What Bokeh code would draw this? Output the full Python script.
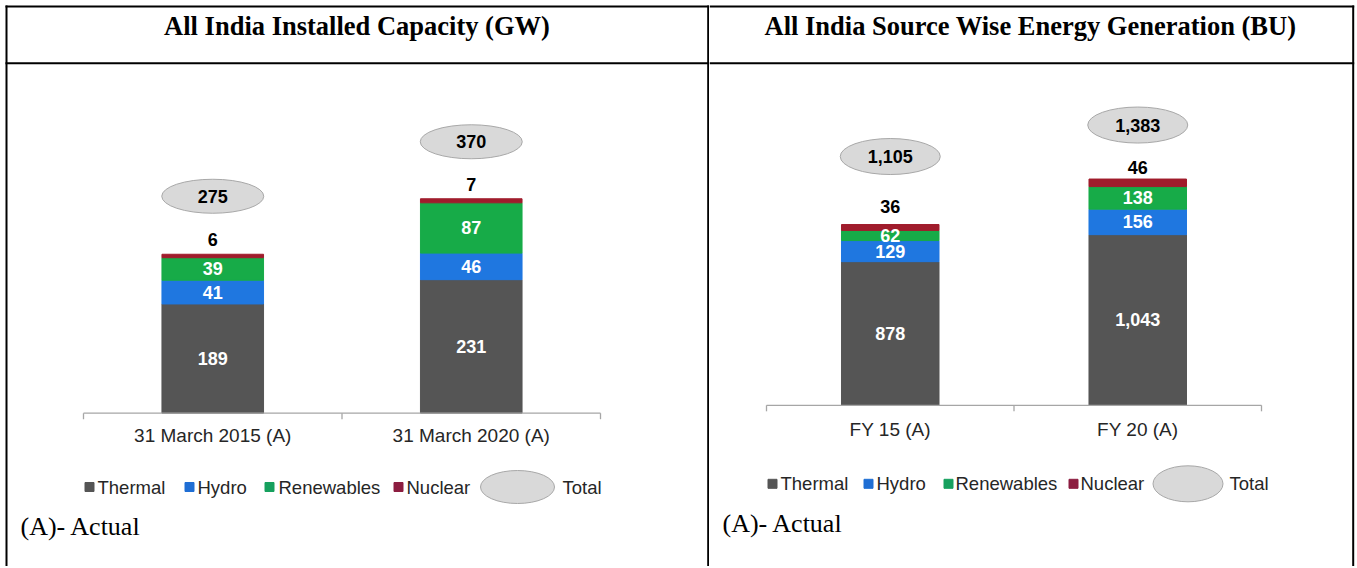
from bokeh.plotting import figure
from bokeh.layouts import row
from bokeh.models import Range1d, ColumnDataSource
from bokeh.core.properties import value
from bokeh.embed import file_html
from bokeh.resources import INLINE

# ---------------- data ----------------
series_names = ["Thermal", "Hydro", "Renewables", "Nuclear"]

cap_categories = ["31 March 2015 (A)", "31 March 2020 (A)"]
cap_thermal = [189, 231]
cap_hydro = [41, 46]
cap_renewables = [39, 87]
cap_nuclear = [6, 7]
cap_total = [275, 370]

gen_categories = ["FY 15 (A)", "FY 20 (A)"]
gen_thermal = [878, 1043]
gen_hydro = [129, 156]
gen_renewables = [62, 138]
gen_nuclear = [36, 46]
gen_total = [1105, 1383]

cap_title = "All India Installed Capacity (GW)"
gen_title = "All India Source Wise Energy Generation (BU)"
footnote = "(A)- Actual"
legend_total = "Total"

# ---------------- style ----------------
BAR_COLORS = ["#555555", "#1f77e0", "#17ab48", "#a01c2c"]
LEG_COLORS = ["#555555", "#1f6ed4", "#16a05e", "#8c1d40"]
SANS = value("Liberation Sans")
SERIF = value("Liberation Serif")
TOP, BOTTOM = 0, 566
FS_BAR = 18        # value labels (px)
FS_CAT = 19        # category labels
FS_LEG = 18.5      # legend


def fmt(v):
    return f"{v:,}"


def make_panel(cfg, categories, stacks, totals, title):
    left, right = cfg["page_left"], cfg["page_right"]
    ay, k = cfg["axis_y"], cfg["k"]
    s0, sw = cfg["slot0"], cfg["slot_w"]

    def X(px):
        return (px - s0) / sw

    def Y(py):
        return (ay - py) / k

    p = figure(width=right - left, height=BOTTOM - TOP,
               x_range=Range1d(X(left), X(right)),
               y_range=Range1d(Y(BOTTOM), Y(TOP)),
               output_backend="svg", toolbar_location=None, tools="",
               min_border=0, x_axis_location=None, y_axis_location=None,
               outline_line_color=None, background_fill_color="white",
               border_fill_color="white")
    p.grid.visible = False

    # cell borders (table look)
    for (xa, ya, xb, yb) in cfg["borders"]:
        p.segment(x0=[X(xa)], y0=[Y(ya)], x1=[X(xb)], y1=[Y(yb)],
                  line_color="black", line_width=2)

    # title
    p.text(x=[X(cfg["title_x"])], y=[Y(cfg["title_y"])], text=[title],
           text_align="center", text_baseline="middle",
           text_font=SERIF, text_font_style="bold", text_font_size="26.5px",
           text_color="black")

    n = len(categories)
    xs = [i + 0.5 for i in range(n)]
    data = {"x": xs}
    for name, vals in zip(series_names, stacks):
        data[name] = vals
    src = ColumnDataSource(data)
    p.vbar_stack(series_names, x="x", width=cfg["bar_w"], color=BAR_COLORS,
                 source=src)

    # segment labels (inside bars)
    lx, ly, lt = [], [], []
    tops = []
    for i in range(n):
        cum = 0
        for j, vals in enumerate(stacks):
            v = vals[i]
            if j < 3:
                lx.append(xs[i])
                ly.append(cum + v / 2)
                lt.append(fmt(v))
            cum += v
        tops.append(cum)
    p.text(x=lx, y=ly, text=lt, text_align="center", text_baseline="middle",
           text_font=SANS, text_font_style="bold", text_font_size=f"{FS_BAR}px",
           text_color="white")

    # nuclear labels above bars
    nuc = stacks[3]
    p.text(x=xs,
           y=[tops[i] + cfg["nuc_gap"][i] / k for i in range(n)],
           text=[fmt(v) for v in nuc], text_align="center",
           text_baseline="middle", text_font=SANS, text_font_style="bold",
           text_font_size=f"{FS_BAR}px", text_color="black")

    # total bubbles
    by = [tops[i] + cfg["bub_gap"][i] / k for i in range(n)]
    p.ellipse(x=xs, y=by, width=cfg["bub_w"] / sw, height=cfg["bub_h"] / k,
              fill_color="#d9d9d9", line_color="#a8a8a8", line_width=1)
    p.text(x=xs, y=by,
           text=[fmt(t) for t in totals], text_align="center",
           text_baseline="middle", text_font=SANS, text_font_style="bold",
           text_font_size=f"{FS_BAR}px", text_color="black")

    # category axis
    p.segment(x0=[0], y0=[0], x1=[n], y1=[0], line_color="#a6a6a6",
              line_width=1.3)
    p.segment(x0=list(range(n + 1)), y0=[0] * (n + 1),
              x1=list(range(n + 1)), y1=[-cfg["tick"] / k] * (n + 1),
              line_color="#a6a6a6", line_width=1.3)
    p.text(x=xs, y=[Y(cfg["cat_y"])] * n, text=categories,
           text_align="center", text_baseline="middle", text_font=SANS,
           text_font_size=f"{FS_CAT}px", text_color="#262626")

    # legend
    leg_y = Y(cfg["leg_y"])
    p.scatter(x=[X(v) for v in cfg["leg_sq"]], y=[leg_y] * 4,
              marker="square", size=9, color=LEG_COLORS)
    p.text(x=[X(v) for v in cfg["leg_tx"]], y=[leg_y] * 4, text=series_names,
           text_align="left", text_baseline="middle", text_font=SANS,
           text_font_size=f"{FS_LEG}px", text_color="#262626")
    p.ellipse(x=[X(cfg["leg_ell_x"])], y=[leg_y],
              width=cfg["leg_ell_w"] / sw, height=cfg["leg_ell_h"] / k,
              fill_color="#d9d9d9", line_color="#a8a8a8", line_width=1)
    p.text(x=[X(cfg["leg_total_x"])], y=[leg_y], text=[legend_total],
           text_align="left", text_baseline="middle", text_font=SANS,
           text_font_size=f"{FS_LEG}px", text_color="#262626")

    # footnote
    p.text(x=[X(cfg["foot_x"])], y=[Y(cfg["foot_y"])], text=[footnote],
           text_align="left", text_baseline="middle", text_font=SERIF,
           text_font_size="26px", text_color="black")
    return p


left_cfg = dict(
    page_left=0, page_right=709, axis_y=412.7, k=0.578, slot0=83, slot_w=258.5,
    bar_w=0.393, bub_gap=[58, 57], nuc_gap=[14.7, 14.3], bub_w=102, bub_h=34,
    tick=6, cat_y=435, title_x=356.5, title_y=25,
    leg_y=486.5, leg_sq=[89, 189, 269, 398],
    leg_tx=[97, 197, 278, 406], leg_ell_x=517, leg_ell_w=74,
    leg_ell_h=33, leg_total_x=562, foot_x=20, foot_y=526,
    borders=[(5, 6, 709, 6), (6, 5, 6, 566), (5, 62.7, 709, 62.7),
             (707.7, 5, 707.7, 566)],
)

right_cfg = dict(
    page_left=709, page_right=1355, axis_y=404.8, k=0.1636, slot0=766,
    slot_w=247.5, bar_w=0.394, bub_gap=[68, 54], nuc_gap=[18, 12], bub_w=100,
    bub_h=36, tick=6, cat_y=429.3, title_x=1030, title_y=25,
    leg_y=483.3, leg_sq=[772, 868, 948, 1073],
    leg_tx=[780, 876, 955, 1080], leg_ell_x=1187.5, leg_ell_w=70,
    leg_ell_h=36, leg_total_x=1229, foot_x=722, foot_y=523,
    borders=[(709, 6, 1353.7, 6), (709, 62.7, 1353.7, 62.7),
             (1352.7, 5, 1352.7, 566)],
)

p1 = make_panel(left_cfg, cap_categories,
                [cap_thermal, cap_hydro, cap_renewables, cap_nuclear],
                cap_total, cap_title)
p2 = make_panel(right_cfg, gen_categories,
                [gen_thermal, gen_hydro, gen_renewables, gen_nuclear],
                gen_total, gen_title)

layout = row(p1, p2)
open("out.html", "w").write(file_html(layout, INLINE))
